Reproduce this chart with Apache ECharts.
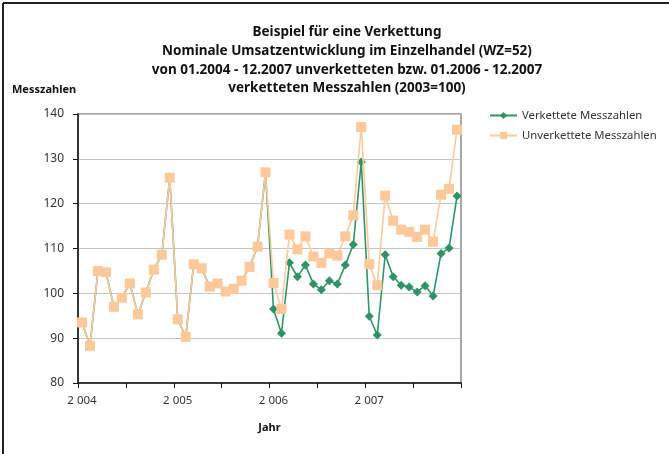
<!DOCTYPE html>
<html><head><meta charset="utf-8">
<script src="https://cdn.jsdelivr.net/npm/echarts@6/dist/echarts.min.js"></script>
<style>html,body{margin:0;padding:0;background:#fff}#c{width:669px;height:454px}</style>
</head><body><div id="c"></div>
<script>
const months = [
 '01.2004','02.2004','03.2004','04.2004','05.2004','06.2004','07.2004','08.2004','09.2004','10.2004','11.2004','12.2004',
 '01.2005','02.2005','03.2005','04.2005','05.2005','06.2005','07.2005','08.2005','09.2005','10.2005','11.2005','12.2005',
 '01.2006','02.2006','03.2006','04.2006','05.2006','06.2006','07.2006','08.2006','09.2006','10.2006','11.2006','12.2006',
 '01.2007','02.2007','03.2007','04.2007','05.2007','06.2007','07.2007','08.2007','09.2007','10.2007','11.2007','12.2007'
];
const yearLabels = {'01.2004':'2 004','01.2005':'2 005','01.2006':'2 006','01.2007':'2 007'};
const unverkettet = [
 93.5, 88.3, 105.0, 104.7, 97.0, 99.0, 102.2, 95.3, 100.2, 105.3, 108.6, 125.8,
 94.2, 90.3, 106.5, 105.6, 101.5, 102.2, 100.4, 101.0, 102.8, 105.9, 110.4, 127.0,
 102.3, 96.5, 113.1, 109.8, 112.7, 108.2, 106.8, 108.9, 108.4, 112.7, 117.4, 137.1,
 106.5, 101.8, 121.8, 116.2, 114.2, 113.7, 112.6, 114.2, 111.5, 122.0, 123.3, 136.5
];
const verkettet = [
 93.5, 88.3, 105.0, 104.7, 97.0, 99.0, 102.2, 95.3, 100.2, 105.3, 108.6, 125.8,
 94.2, 90.3, 106.5, 105.6, 101.5, 102.2, 100.4, 101.0, 102.8, 105.9, 110.4, 127.0,
 96.5, 91.1, 106.8, 103.7, 106.3, 102.1, 100.8, 102.8, 102.1, 106.3, 110.9, 129.3,
 94.9, 90.7, 108.6, 103.7, 101.8, 101.4, 100.3, 101.7, 99.4, 108.9, 110.1, 121.7
];
const titleText = 'Beispiel für eine Verkettung\nNominale Umsatzentwicklung im Einzelhandel (WZ=52)\nvon 01.2004 - 12.2007 unverketteten bzw. 01.2006 - 12.2007\nverketteten Messzahlen (2003=100)';
const FONT = 'Noto Sans';
const chart = echarts.init(document.getElementById('c'), null, {renderer:'canvas'});
chart.setOption({
  animation:false,
  backgroundColor:'#fff',
  textStyle:{fontFamily:FONT},
  title:{text:titleText,left:342,top:18,textAlign:'center',
    textStyle:{fontFamily:FONT,fontSize:13.5,fontWeight:'bold',color:'#111',lineHeight:18.7}},
  legend:{orient:'vertical',left:484,top:105,itemGap:9,itemWidth:27,itemHeight:9,
    textStyle:{fontFamily:FONT,fontSize:11.3,color:'#333'},
    data:['Verkettete Messzahlen','Unverkettete Messzahlen']},
  grid:{left:78,top:114,right:208,bottom:71,show:true,borderColor:'#8a8a8a',borderWidth:1.5,containLabel:false},
  xAxis:{type:'category',data:months,boundaryGap:true,
    name:'Jahr',nameLocation:'middle',nameGap:39,
    nameTextStyle:{fontFamily:FONT,fontSize:11,fontWeight:'bold',color:'#111'},
    axisLine:{lineStyle:{color:'#111',width:1.5}},
    axisTick:{show:true,length:5,interval:function(i){return i%6===0;},lineStyle:{color:'#111'}},
    axisLabel:{interval:function(i,v){return !!yearLabels[v];},formatter:function(v){return yearLabels[v]||'';},
      margin:12,fontSize:11.5,color:'#333',fontFamily:FONT},
    splitLine:{show:false}},
  yAxis:{type:'value',min:80,max:140,interval:10,
    axisLine:{show:true,lineStyle:{color:'#111',width:1.5}},
    axisTick:{show:true,length:5,lineStyle:{color:'#111'}},
    axisLabel:{margin:14,fontSize:12,color:'#333',fontFamily:FONT},
    splitLine:{lineStyle:{color:'#c4c4c4',width:1}}},
  graphic:[
    {type:'line',shape:{x1:3,y1:3,x2:669,y2:3},style:{stroke:'#222',lineWidth:2},silent:true},
    {type:'line',shape:{x1:3,y1:3,x2:3,y2:454},style:{stroke:'#222',lineWidth:2},silent:true},
    {type:'text',left:12,top:84,style:{text:'Messzahlen',fontFamily:FONT,fontSize:11,fontWeight:'bold',fill:'#111'}}
  ],
  series:[
    {name:'Verkettete Messzahlen',type:'line',data:verkettet,symbol:'diamond',symbolSize:9,showAllSymbol:true,
      lineStyle:{color:'#2e9466',width:1.6},itemStyle:{color:'#2e9466'},z:2},
    {name:'Unverkettete Messzahlen',type:'line',data:unverkettet,symbol:'rect',symbolSize:10,showAllSymbol:true,
      lineStyle:{color:'#fdc99a',width:1.6},itemStyle:{color:'#fdc99a'},z:3}
  ]
});
</script></body></html>
